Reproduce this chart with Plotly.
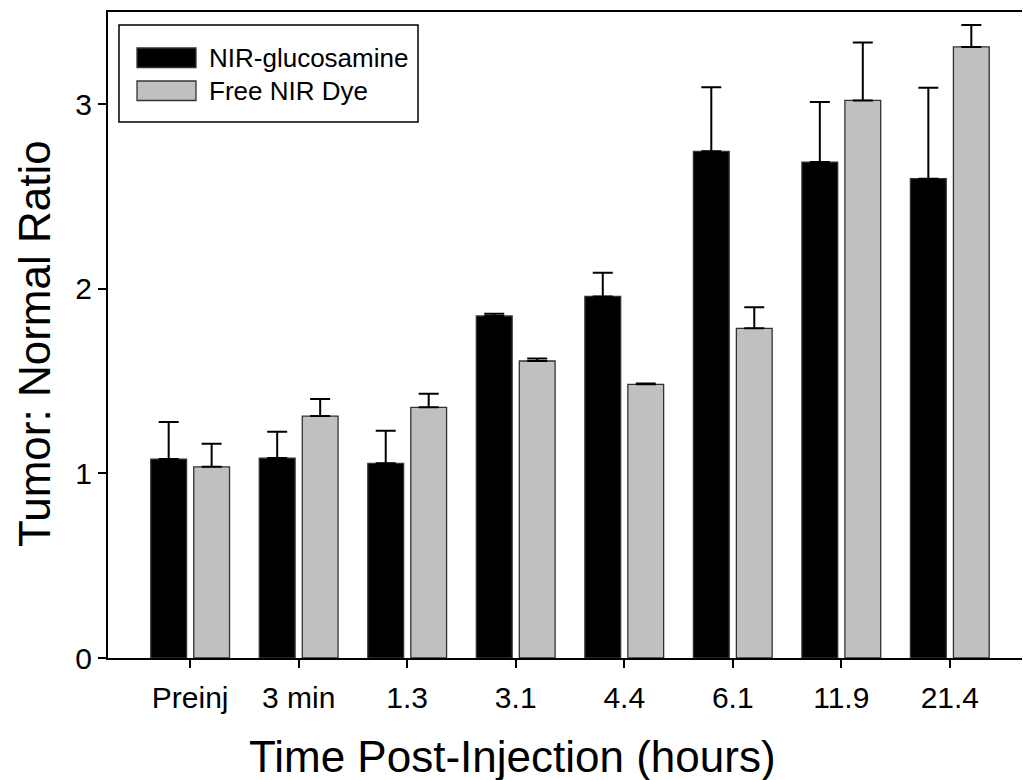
import plotly.graph_objects as go

# Time points (categories) and the two series with their upward error bars
time_labels = ["Preinj", "3 min", "1.3", "3.1", "4.4", "6.1", "11.9", "21.4"]
series_names = ["NIR-glucosamine", "Free NIR Dye"]
glucosamine = [1.078, 1.083, 1.055, 1.853, 1.959, 2.745, 2.687, 2.597]
glucosamine_err = [0.200, 0.143, 0.176, 0.012, 0.128, 0.347, 0.325, 0.493]
free_dye = [1.036, 1.311, 1.358, 1.609, 1.483, 1.786, 3.021, 3.311]
free_dye_err = [0.125, 0.092, 0.074, 0.014, 0.004, 0.114, 0.314, 0.118]
y_ticks = [0, 1, 2, 3]

W, H = 1023, 780
ML, MR, MT, MB = 108, 1, 12, 122
FONT = "Liberation Sans, Arial, sans-serif"
COLORS = ["#000000", "#C0C0C0"]

x_idx = list(range(len(time_labels)))

fig = go.Figure()
for name, vals, errs, col in zip(series_names, [glucosamine, free_dye],
                                 [glucosamine_err, free_dye_err], COLORS):
    fig.add_trace(go.Bar(
        x=x_idx, y=vals, name=name,
        marker=dict(color=col, line=dict(color="#333333", width=1.3)),
        error_y=dict(type="data", symmetric=False, array=errs,
                     arrayminus=[0] * len(errs), color="#000000",
                     thickness=2, width=10),
        showlegend=False,
    ))

# Plot-area helpers (pixel -> paper coordinates) for the boxed legend and titles
pw = W - ML - MR
ph = H - MT - MB


def px(x):
    return (x - ML) / pw


def py(y):
    return (H - MB - y) / ph


shapes = [dict(type="rect", xref="paper", yref="paper",
               x0=px(119), x1=px(418), y0=py(122), y1=py(25),
               line=dict(color="#000000", width=1.5), fillcolor="white")]
annotations = []
for i, (name, col) in enumerate(zip(series_names, COLORS)):
    top = 48 + i * 33
    shapes.append(dict(type="rect", xref="paper", yref="paper",
                       x0=px(137), x1=px(196), y0=py(top + 19.5), y1=py(top),
                       line=dict(color="#333333", width=1.3), fillcolor=col))
    annotations.append(dict(xref="paper", yref="paper", x=px(207),
                            y=py(top + 10), text=name, showarrow=False,
                            xanchor="left", yanchor="middle",
                            font=dict(family=FONT, size=26, color="#000000")))

# Axis titles, centred on the page / plot as in the figure layout
annotations.append(dict(xref="paper", yref="paper", x=px(512), y=py(756),
                        text="Time Post-Injection (hours)", showarrow=False,
                        xanchor="center", yanchor="middle",
                        font=dict(family=FONT, size=44, color="#000000")))
annotations.append(dict(xref="paper", yref="paper", x=px(35), y=py(344),
                        text="Tumor: Normal Ratio", showarrow=False,
                        textangle=-90, xanchor="center", yanchor="middle",
                        font=dict(family=FONT, size=44, color="#000000")))

fig.update_layout(
    width=W, height=H,
    margin=dict(l=ML, r=MR, t=MT, b=MB),
    paper_bgcolor="white", plot_bgcolor="white",
    barmode="group", bargap=0.208, bargroupgap=0.167,
    font=dict(family=FONT, color="#000000"),
    shapes=shapes, annotations=annotations,
    xaxis=dict(
        range=[-0.757, 7.665], tickmode="array", tickvals=x_idx,
        ticktext=time_labels, ticks="outside", ticklen=8, tickwidth=1.5,
        tickcolor="#000000", showline=True, linecolor="#000000", linewidth=2,
        mirror=True, showgrid=False, zeroline=False,
        tickfont=dict(family=FONT, size=30), ticklabelstandoff=4,
    ),
    yaxis=dict(
        range=[0, 3.5], tickmode="array", tickvals=y_ticks,
        ticks="outside", ticklen=8, tickwidth=1.5, tickcolor="#000000",
        showline=True, linecolor="#000000", linewidth=2, mirror=False,
        showgrid=False, zeroline=False,
        tickfont=dict(family=FONT, size=30),
    ),
)

fig.write_html("out.html")
